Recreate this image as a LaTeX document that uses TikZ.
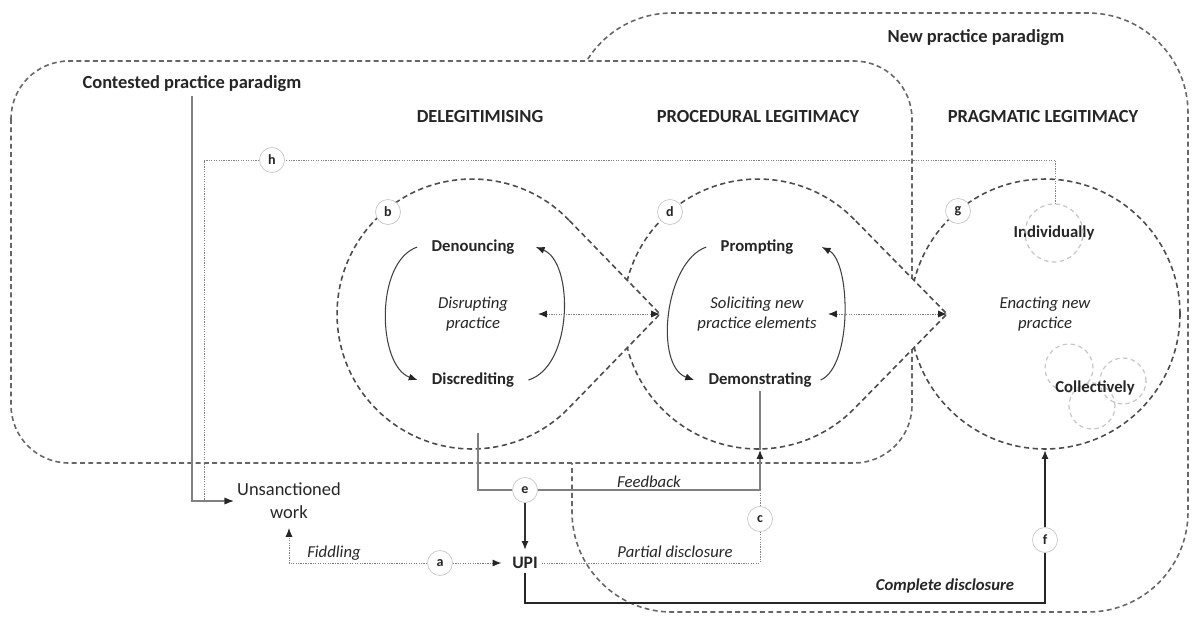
\documentclass[tikz,border=0pt]{standalone}
\usepackage{fontspec}
\setmainfont{Carlito}
\usetikzlibrary{positioning,arrows.meta}

\begin{document}
\begin{tikzpicture}[x=0.02cm, y=-0.02cm,
    txt/.style={font=\fontsize{9.5}{11.5}\selectfont, text=black!85, inner sep=2pt},
    act/.style={txt, font=\fontsize{9.5}{11.5}\selectfont\bfseries},
    modetxt/.style={txt, font=\fontsize{9.5}{11.5}\selectfont\itshape, align=center},
    heading/.style={txt, font=\fontsize{10.5}{12}\selectfont\bfseries},
    lettercirc/.style={circle, draw=black!22, fill=white, inner sep=0pt, minimum size=0.5cm, font=\fontsize{8}{9}\selectfont\bfseries, text=black!85},
    boxline/.style={draw=black!60, line width=0.9pt, dash pattern=on 2.8pt off 1.9pt},
    circline/.style={draw=black!70, fill=white, line width=0.9pt, dash pattern=on 3pt off 2pt},
    subcirc/.style={draw=black!22, line width=0.7pt, dash pattern=on 2.5pt off 2pt},
    dotline/.style={draw=black!50, line width=0.5pt, dash pattern=on 0.7pt off 0.7pt},
    fbline/.style={draw=black!50, line width=0.7pt},
    darkline/.style={draw=black!80, line width=0.8pt},
    heavyline/.style={draw=black!85, line width=1.4pt},
    arcline/.style={draw=black!75, line width=0.6pt},
    arr/.style={-{Latex[length=5pt,width=4pt,color=black!85]}},
    arrboth/.style={{Latex[length=5pt,width=4pt,color=black!85]}-{Latex[length=5pt,width=4pt,color=black!85]}}]
    \useasboundingbox (0,0) rectangle (1192,616);

    \draw[boxline, rounded corners=2cm] (572,13) rectangle (1188,612);
    \draw[boxline, fill=white, rounded corners=1.16cm] (11,61) rectangle (912,463);

    \coordinate (cL) at (472,314);
    \coordinate (cM) at (758,314);
    \coordinate (cR) at (1045,314);
    \coordinate (tipL) at (660,314);
    \coordinate (tipM) at (947,314);
    \draw[circline] (cR) circle[radius=2.7cm];
    \draw[circline] (cM) ++(44.4:2.7cm) arc[start angle=44.4, end angle=315.6, radius=2.7cm] -- (tipM) -- cycle;
    \draw[circline] (cL) ++(44.1:2.7cm) arc[start angle=44.1, end angle=315.9, radius=2.7cm] -- (tipL) -- cycle;

    \node[heading] (cpp) at (192,84) {Contested practice paradigm};
    \node[heading] (npp) at (976,38) {New practice paradigm};
    \node[heading] (deleg) at (480,117) {DELEGITIMISING};
    \node[heading] (proc) at (758,117) {PROCEDURAL LEGITIMACY};
    \node[heading] (prag) at (1043,117) {PRAGMATIC LEGITIMACY};

    \node[act] (denounce) at (473,247) {Denouncing};
    \node[act] (discredit) at (473,380) {Discrediting};
    \node[modetxt] (disrupt) at (473,314) {Disrupting\\practice};
    \node[act] (prompt) at (757,247) {Prompting};
    \node[act] (demo) at (760,380) {Demonstrating};
    \node[modetxt] (solicit) at (757,314) {Soliciting new\\practice elements};
    \node[modetxt] (enact) at (1045,314) {Enacting new\\practice};
    \node[act] (ind) at (1054,233) {Individually};
    \draw[subcirc] (ind.center) circle[radius=0.58cm];
    \draw[subcirc] (1069,368) circle[radius=0.48cm];
    \draw[subcirc] (1123,381) circle[radius=0.46cm];
    \draw[subcirc] (1092,406) circle[radius=0.46cm];
    \node[act] (coll) at (1095,388) {Collectively};

    \node[txt, font=\fontsize{10.5}{13}\selectfont, align=center] (unsanc) at (289,501) {Unsanctioned\\work};
    \node[act, font=\fontsize{10}{12}\selectfont\bfseries] (upi) at (525,563) {UPI};
    \node[modetxt] (fiddle) at (334,553) {Fiddling};
    \node[modetxt] (feedlbl) at (649,482) {Feedback};
    \node[modetxt] (partlbl) at (675,552) {Partial disclosure};
    \node[modetxt, font=\fontsize{9.5}{11.5}\selectfont\bfseries\itshape] (complbl) at (945,586) {Complete disclosure};

    \node[lettercirc] (a) at (440,563) {a};
    \node[lettercirc] (b) at (388,212) {b};
    \node[lettercirc] (c) at (760,519) {c};
    \node[lettercirc] (d) at (670,212) {d};
    \node[lettercirc] (e) at (525,490) {e};
    \node[lettercirc] (f) at (1045,540) {f};
    \node[lettercirc] (g) at (958,211) {g};
    \node[lettercirc] (h) at (272,160) {h};

    \coordinate (indtop) at (1055,204);
    \coordinate (hcorner) at (204,502);
    \coordinate (dL) at (538,314);
    \coordinate (dM) at (828,314);
    \coordinate (fbL) at (478,433);
    \coordinate (fbR) at (760,490);
    \coordinate (mBot) at (760,450);
    \coordinate (rBot) at (1045,450);
    \coordinate (cdc) at (1045,603);

    \draw[arcline, arr] ([xshift=-6pt]denounce.west) .. controls +(-43,15) and +(-40,-14) .. ([xshift=-6pt]discredit.west);
    \draw[arcline, arr] ([xshift=6pt]discredit.east) .. controls +(45,-14) and +(38,15) .. ([xshift=10pt]denounce.east);
    \draw[arcline, arr] ([xshift=-6pt]prompt.west) .. controls +(-42,15) and +(-40,-14) .. ([xshift=-6pt]demo.west);
    \draw[arcline, arr] ([xshift=3pt]demo.east) .. controls +(32,-14) and +(29,15) .. ([xshift=14pt]prompt.east);
    \draw[dotline, arrboth] (dL) -- (tipL);
    \draw[dotline, arrboth] (dM) -- (tipM);

    \draw[fbline, arr] (cpp.south) |- (unsanc.west);
    \draw[dotline, arr] (indtop) |- (h) -| (hcorner) |- (unsanc.west);
    \draw[dotline, arr, shorten >=3pt] (a) -| (unsanc.south);
    \draw[dotline, arr, shorten >=4pt] (a) -- (upi);
    \draw[fbline] (fbL) |- (e) -- (fbR);
    \draw[fbline, arr] (fbR) -- (mBot);
    \draw[fbline] (demo.south) -- (mBot);
    \draw[dotline] (upi) -| (c);
    \draw[dotline] (c) -- (fbR);
    \draw[darkline, arr, shorten >=2pt] (e) -- (upi);
    \draw[heavyline] (upi) |- (cdc) -- (f);
    \draw[heavyline, arr] (f) -- (rBot);
\end{tikzpicture}
\end{document}
